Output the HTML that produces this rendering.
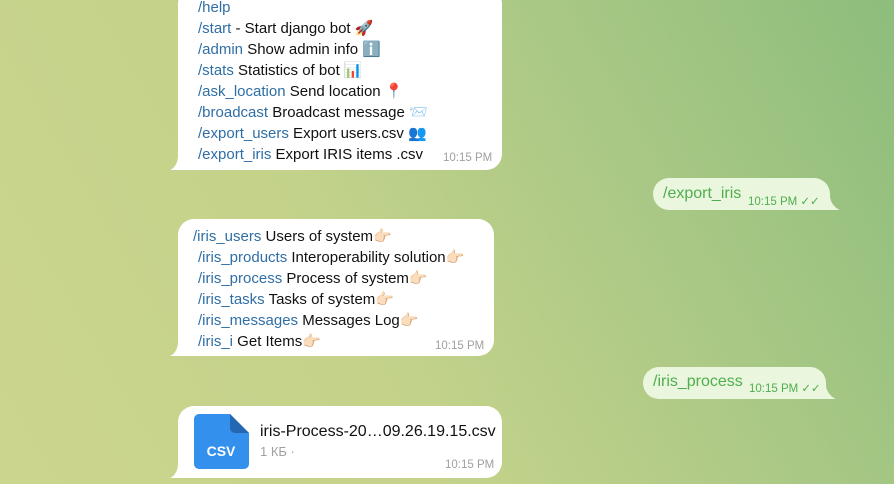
<!DOCTYPE html>
<html><head><meta charset="utf-8"><style>
body{margin:0;width:894px;height:484px;overflow:hidden;position:relative;font-family:"Liberation Sans","DejaVu Sans",sans-serif;
background:linear-gradient(60deg,#ccd58e 0%,#c3d28a 40%,#a9c885 70%,#8dbd7c 100%);}
.b{position:absolute;background:#fff;border-radius:16px;}
.l{position:absolute;font-size:15px;color:#111;white-space:nowrap;line-height:20px}
.c{color:#2f6ea5}
.t{position:absolute;font-size:11.5px;color:#a0a0a0;white-space:nowrap}
.o{position:absolute;background:#eaf6dd;border-radius:16px;border-bottom-right-radius:0}
.g{color:#4fae4e}
</style></head><body>

<div class="b" style="left:178px;top:-12px;width:324px;height:182px;border-bottom-left-radius:0"></div>
<svg style="position:absolute;left:170px;top:156px" width="12" height="14"><path d="M8 0 V14 H0 C5 12 8 6 8 0Z" fill="#fff"/></svg>
<div class="l" style="left:198px;top:-2px"><span class="c">/help</span></div>
<div class="l" style="left:198px;top:19px"><span class="c">/start</span> - Start django bot 🚀</div>
<div class="l" style="left:198px;top:40px"><span class="c">/admin</span> Show admin info ℹ️</div>
<div class="l" style="left:198px;top:61px"><span class="c">/stats</span> Statistics of bot 📊</div>
<div class="l" style="left:198px;top:82px"><span class="c">/ask_location</span> Send location 📍</div>
<div class="l" style="left:198px;top:103px"><span class="c">/broadcast</span> Broadcast message 📨</div>
<div class="l" style="left:198px;top:124px"><span class="c">/export_users</span> Export users.csv 👥</div>
<div class="l" style="left:198px;top:145px"><span class="c">/export_iris</span> Export IRIS items .csv</div>
<div class="t" style="left:443px;top:152px">10:15 PM</div>

<div class="o" style="left:653px;top:178px;width:177px;height:32px"></div>
<svg style="position:absolute;left:828px;top:196px" width="12" height="14"><path d="M2 0 V14 H12 C7 12 2 6 2 0Z" fill="#eaf6dd"/></svg>
<div class="l g" style="left:663px;top:184px;font-size:16px">/export_iris</div>
<div class="t g" style="left:748px;top:194px">10:15 PM ✓✓</div>

<div class="b" style="left:178px;top:219px;width:316px;height:137px;border-bottom-left-radius:0"></div>
<svg style="position:absolute;left:170px;top:342px" width="12" height="14"><path d="M8 0 V14 H0 C5 12 8 6 8 0Z" fill="#fff"/></svg>
<div class="l" style="left:193px;top:227px"><span class="c">/iris_users</span> Users of system👉🏻</div>
<div class="l" style="left:198px;top:248px"><span class="c">/iris_products</span> Interoperability solution👉🏻</div>
<div class="l" style="left:198px;top:269px"><span class="c">/iris_process</span> Process of system👉🏻</div>
<div class="l" style="left:198px;top:290px"><span class="c">/iris_tasks</span> Tasks of system👉🏻</div>
<div class="l" style="left:198px;top:311px"><span class="c">/iris_messages</span> Messages Log👉🏻</div>
<div class="l" style="left:198px;top:332px"><span class="c">/iris_i</span> Get Items👉🏻</div>
<div class="t" style="left:435px;top:340px">10:15 PM</div>

<div class="o" style="left:643px;top:367px;width:183px;height:32px"></div>
<svg style="position:absolute;left:824px;top:385px" width="12" height="14"><path d="M2 0 V14 H12 C7 12 2 6 2 0Z" fill="#eaf6dd"/></svg>
<div class="l g" style="left:653px;top:372px;font-size:16px">/iris_process</div>
<div class="t g" style="left:749px;top:381px">10:15 PM ✓✓</div>

<div class="b" style="left:178px;top:406px;width:324px;height:72px;border-bottom-left-radius:0"></div>
<svg style="position:absolute;left:170px;top:464px" width="12" height="14"><path d="M8 0 V14 H0 C5 12 8 6 8 0Z" fill="#fff"/></svg>
<svg style="position:absolute;left:194px;top:414px" width="55" height="55"><path d="M5 0 H36 L55 19 V50 A5 5 0 0 1 50 55 H5 A5 5 0 0 1 0 50 V5 A5 5 0 0 1 5 0Z" fill="#3390ec"/><path d="M36 0 V14 A5 5 0 0 0 41 19 H55Z" fill="#2468b4"/><text x="27" y="42" font-size="14" font-weight="bold" fill="#fff" text-anchor="middle" font-family="Liberation Sans,sans-serif">CSV</text></svg>
<div class="l" style="left:260px;top:422px;font-size:16px">iris-Process-20…09.26.19.15.csv</div>
<div class="t" style="left:260px;top:444px;font-size:13px">1 КБ ·</div>
<div class="t" style="left:445px;top:459px">10:15 PM</div>
</body></html>
